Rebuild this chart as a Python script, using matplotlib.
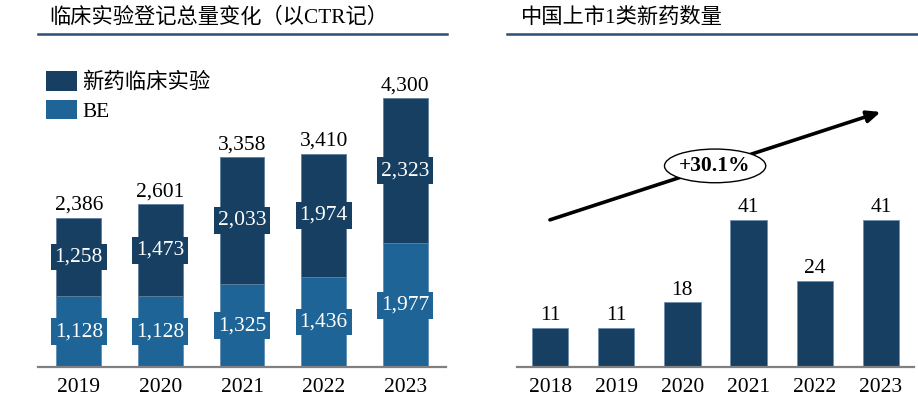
import matplotlib
matplotlib.use("Agg")
import matplotlib.pyplot as plt
from matplotlib.patches import Ellipse, Patch
from matplotlib.lines import Line2D

# ---------------- data ----------------
years_left = ["2019", "2020", "2021", "2022", "2023"]
be_values = [1128, 1128, 1325, 1436, 1977]
new_drug_values = [1258, 1473, 2033, 1974, 2323]
totals_left = [2386, 2601, 3358, 3410, 4300]

years_right = ["2018", "2019", "2020", "2021", "2022", "2023"]
class1_values = [11, 11, 18, 41, 24, 41]
growth_label = "+30.1%"

title_left = "临床实验登记总量变化（以CTR记）"
title_right = "中国上市1类新药数量"
legend_labels = ["新药临床实验", "BE"]

# ---------------- style ----------------
DARK = "#163F61"
BLUE = "#1F6496"
AXIS_GRAY = "#808080"
TITLE_LINE = "#2B4F78"
FONT = ["Liberation Serif", "Noto Sans CJK SC", "DejaVu Sans"]
plt.rcParams["font.family"] = FONT
NUM_FS = 15.5

W, H = 918, 398
fig = plt.figure(figsize=(W / 100, H / 100), dpi=100)


def px_axes(x0, y_top, x1, y_bottom):
    return fig.add_axes([x0 / W, 1 - y_bottom / H, (x1 - x0) / W, (y_bottom - y_top) / H])


def fmt(v):
    return f"{v:,}"


# ---------------- left chart ----------------
axL = px_axes(38, 40, 446, 367)
x = range(len(years_left))
axL.bar(x, be_values, width=0.55, color=BLUE, edgecolor="#5F8FB5", linewidth=0.6, zorder=2)
axL.bar(x, new_drug_values, width=0.55, bottom=be_values, color=DARK,
        edgecolor="#5F7F9F", linewidth=0.6, zorder=2)
px_per_unit = 269 / 4300
axL.set_ylim(0, 327 / px_per_unit)
axL.set_xlim(-0.5, len(years_left) - 0.5)

for i in x:
    b = be_values[i]
    n = new_drug_values[i]
    axL.text(i, b / 2, fmt(b), ha="center", va="center", color="white", fontsize=NUM_FS,
             bbox=dict(boxstyle="square,pad=0.18", fc=BLUE, ec="none"), zorder=3)
    axL.text(i, b + n / 2, fmt(n), ha="center", va="center", color="white", fontsize=NUM_FS,
             bbox=dict(boxstyle="square,pad=0.18", fc=DARK, ec="none"), zorder=3)
    axL.annotate(fmt(totals_left[i]), (i, b + n), xytext=(0, 2), textcoords="offset points",
                 ha="center", va="bottom", fontsize=NUM_FS, color="black")

axL.set_xticks(list(x))
axL.set_xticklabels(years_left, fontsize=NUM_FS)
axL.set_yticks([])
for s in ["top", "right", "left"]:
    axL.spines[s].set_visible(False)
axL.spines["bottom"].set_color(AXIS_GRAY)
axL.spines["bottom"].set_linewidth(1.6)
axL.tick_params(axis="x", length=0, pad=8)
axL.set_facecolor("none")

handles = [Patch(facecolor=DARK, edgecolor="none"), Patch(facecolor=BLUE, edgecolor="none")]
leg = axL.legend(handles, legend_labels, loc="upper left", bbox_to_anchor=(0.02, 0.905),
                 frameon=False, fontsize=15.4, handlelength=1.45, handleheight=1.03,
                 handletextpad=0.25, labelspacing=0.3, borderaxespad=0, borderpad=0)

# ---------------- right chart ----------------
axR = px_axes(517, 40, 914, 367)
xr = range(len(years_right))
axR.bar(xr, class1_values, width=0.55, color=DARK, edgecolor="#6F8FAF", linewidth=0.6, zorder=2)
axR.set_ylim(0, 41 * 327 / 147)
axR.set_xlim(-0.5, len(years_right) - 0.5)
for i in xr:
    axR.annotate(str(class1_values[i]), (i, class1_values[i]), xytext=(0, 2),
                 textcoords="offset points", ha="center", va="bottom", fontsize=NUM_FS)
axR.set_xticks(list(xr))
axR.set_xticklabels(years_right, fontsize=NUM_FS)
axR.set_yticks([])
for s in ["top", "right", "left"]:
    axR.spines[s].set_visible(False)
axR.spines["bottom"].set_color(AXIS_GRAY)
axR.spines["bottom"].set_linewidth(1.6)
axR.tick_params(axis="x", length=0, pad=8)
axR.set_facecolor("none")

# trend arrow
axR.annotate("", xy=(0.916, 0.78), xytext=(0.083, 0.45), xycoords="axes fraction",
             textcoords="axes fraction",
             arrowprops=dict(arrowstyle="-|>,head_length=0.8,head_width=0.35", color="black",
                             lw=2.6, shrinkA=0, shrinkB=0), zorder=4)
ell = Ellipse((0.499, 0.615), 0.255, 0.103, transform=axR.transAxes, facecolor="white",
              edgecolor="black", linewidth=1.0, zorder=5)
axR.add_patch(ell)
axR.text(0.499, 0.615, growth_label, transform=axR.transAxes, ha="center", va="center",
         fontsize=NUM_FS, fontweight="bold", zorder=6)

# ---------------- titles ----------------
fig.text(49 / W, 1 - 18 / H, title_left, ha="left", va="center", fontsize=15.3, family=FONT)
fig.text(521 / W, 1 - 18 / H, title_right, ha="left", va="center", fontsize=15.3, family=FONT)
fig.add_artist(Line2D([38 / W, 447 / W], [1 - 34 / H, 1 - 34 / H], color=TITLE_LINE, lw=1.8,
                      transform=fig.transFigure))
fig.add_artist(Line2D([507 / W, 1.0], [1 - 34 / H, 1 - 34 / H], color=TITLE_LINE, lw=1.8,
                      transform=fig.transFigure))

fig.savefig("out.png", dpi=100, facecolor="white")
